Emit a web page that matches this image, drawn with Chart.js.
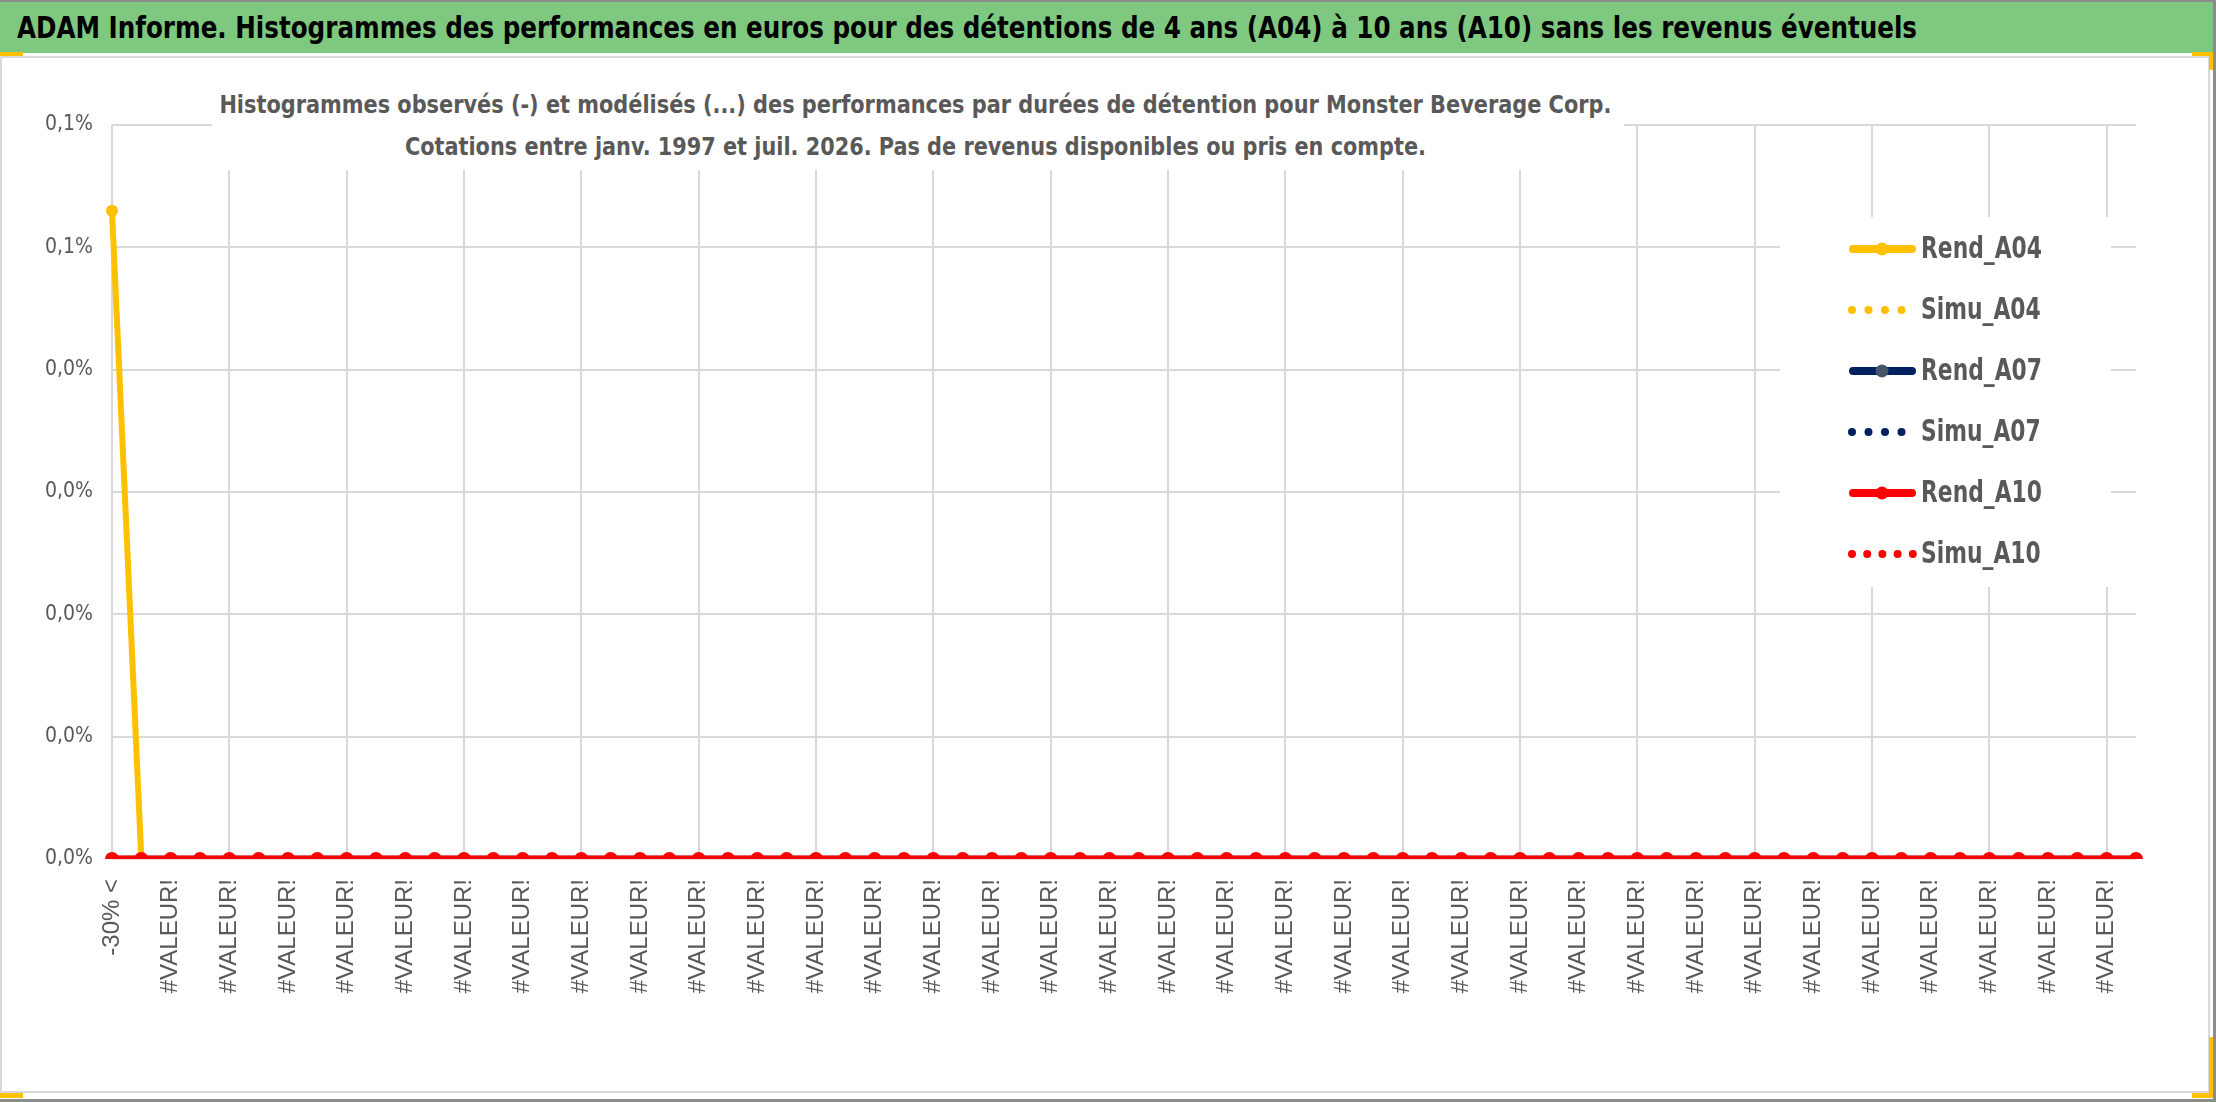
<!DOCTYPE html>
<html>
<head>
<meta charset="utf-8">
<script src="https://cdn.jsdelivr.net/npm/chart.js@4.4.1/dist/chart.umd.min.js"></script>
<style>
  html, body { margin:0; padding:0; background:#fff; }
  body { width:2216px; height:1102px; position:relative; overflow:hidden; }
  #bar { position:absolute; left:0; top:0; width:2213px; height:53px; background:#7EC87F; border-top:2px solid #8C8C8C; box-sizing:border-box; }
  #title { position:absolute; left:17px; top:6px; white-space:nowrap; font-family:'Liberation Sans Narrow','DejaVu Sans Condensed',sans-serif; font-weight:bold; font-size:30px; line-height:40px; color:#000; transform-origin:0 50%; }
  #frame { position:absolute; left:0; top:56px; width:2210px; height:1037px; border:2px solid #D9D9D9; box-sizing:border-box; }
  #outerR { position:absolute; left:2213px; top:0; width:3px; height:1102px; background:#8C8C8C; }
  #outerB { position:absolute; left:0; top:1099px; width:2216px; height:3px; background:#8C8C8C; }
  .mk { position:absolute; background:#FFC000; }
  #chart { position:absolute; left:0; top:0; }
  #sub { position:absolute; left:212px; top:84px; width:1412px; height:86px; background:#fff; }
  #sub span { position:absolute; white-space:nowrap; height:42px; line-height:42px; font-family:'Liberation Sans Narrow','DejaVu Sans Condensed',sans-serif; font-weight:bold; font-size:25px; color:#595959; transform-origin:50% 50%; }
  #s1 { top:0; }
  #s2 { top:42px; }
</style>
</head>
<body>
<div id="bar"><span id="title">ADAM Informe. Histogrammes des performances en euros pour des détentions de 4 ans (A04) à 10 ans (A10) sans les revenus éventuels</span></div>
<div id="frame"></div>
<div id="outerR"></div>
<div id="outerB"></div>
<div class="mk" style="left:0;top:52px;width:23px;height:4px"></div>
<div class="mk" style="left:2192px;top:52px;width:21px;height:4px"></div>
<div class="mk" style="left:2209px;top:52px;width:4px;height:18px"></div>
<div class="mk" style="left:0;top:1093px;width:23px;height:5px"></div>
<div class="mk" style="left:2192px;top:1093px;width:21px;height:5px"></div>
<div class="mk" style="left:2209px;top:1037px;width:4px;height:61px"></div>
<canvas id="chart" width="2216" height="1102"></canvas>
<div id="sub">
  <span id="s1">Histogrammes observés (-) et modélisés (...) des performances par durées de détention pour Monster Beverage Corp.</span>
  <span id="s2">Cotations entre janv. 1997 et juil. 2026. Pas de revenus disponibles ou pris en compte.</span>
</div>
<script>
// ---- data ----
const categories = [
  "-30% <","#VALEUR!","#VALEUR!","#VALEUR!","#VALEUR!","#VALEUR!","#VALEUR!","#VALEUR!","#VALEUR!","#VALEUR!",
  "#VALEUR!","#VALEUR!","#VALEUR!","#VALEUR!","#VALEUR!","#VALEUR!","#VALEUR!","#VALEUR!","#VALEUR!","#VALEUR!",
  "#VALEUR!","#VALEUR!","#VALEUR!","#VALEUR!","#VALEUR!","#VALEUR!","#VALEUR!","#VALEUR!","#VALEUR!","#VALEUR!",
  "#VALEUR!","#VALEUR!","#VALEUR!","#VALEUR!","#VALEUR!","#VALEUR!","#VALEUR!","#VALEUR!","#VALEUR!","#VALEUR!",
  "#VALEUR!","#VALEUR!","#VALEUR!","#VALEUR!","#VALEUR!","#VALEUR!","#VALEUR!","#VALEUR!","#VALEUR!","#VALEUR!",
  "#VALEUR!","#VALEUR!","#VALEUR!","#VALEUR!","#VALEUR!","#VALEUR!","#VALEUR!","#VALEUR!","#VALEUR!","#VALEUR!",
  "#VALEUR!","#VALEUR!","#VALEUR!","#VALEUR!","#VALEUR!","#VALEUR!","#VALEUR!","#VALEUR!","#VALEUR!","#VALEUR!"
];
const rendA04 = [0.00053,0,0,0,0,0,0,0,0,0, 0,0,0,0,0,0,0,0,0,0, 0,0,0,0,0,0,0,0,0,0, 0,0,0,0,0,0,0,0,0,0, 0,0,0,0,0,0,0,0,0,0, 0,0,0,0,0,0,0,0,0,0, 0,0,0,0,0,0,0,0,0,0];
const simuA04 = [0,0,0,0,0,0,0,0,0,0, 0,0,0,0,0,0,0,0,0,0, 0,0,0,0,0,0,0,0,0,0, 0,0,0,0,0,0,0,0,0,0, 0,0,0,0,0,0,0,0,0,0, 0,0,0,0,0,0,0,0,0,0, 0,0,0,0,0,0,0,0,0,0];
const rendA07 = [0,0,0,0,0,0,0,0,0,0, 0,0,0,0,0,0,0,0,0,0, 0,0,0,0,0,0,0,0,0,0, 0,0,0,0,0,0,0,0,0,0, 0,0,0,0,0,0,0,0,0,0, 0,0,0,0,0,0,0,0,0,0, 0,0,0,0,0,0,0,0,0,0];
const simuA07 = [0,0,0,0,0,0,0,0,0,0, 0,0,0,0,0,0,0,0,0,0, 0,0,0,0,0,0,0,0,0,0, 0,0,0,0,0,0,0,0,0,0, 0,0,0,0,0,0,0,0,0,0, 0,0,0,0,0,0,0,0,0,0, 0,0,0,0,0,0,0,0,0,0];
const rendA10 = [0,0,0,0,0,0,0,0,0,0, 0,0,0,0,0,0,0,0,0,0, 0,0,0,0,0,0,0,0,0,0, 0,0,0,0,0,0,0,0,0,0, 0,0,0,0,0,0,0,0,0,0, 0,0,0,0,0,0,0,0,0,0, 0,0,0,0,0,0,0,0,0,0];
const simuA10 = [0,0,0,0,0,0,0,0,0,0, 0,0,0,0,0,0,0,0,0,0, 0,0,0,0,0,0,0,0,0,0, 0,0,0,0,0,0,0,0,0,0, 0,0,0,0,0,0,0,0,0,0, 0,0,0,0,0,0,0,0,0,0, 0,0,0,0,0,0,0,0,0,0];
const yMin = 0, yMax = 0.0006, yStep = 0.0001;

// ---- fit HTML titles to reference widths ----
function fitLeft(id, target) {
  const el = document.getElementById(id);
  const w = el.getBoundingClientRect().width;
  if (w > 0) el.style.transform = 'scaleX(' + (target / w) + ')';
}
function fitCenter(id, target, cx) {
  const el = document.getElementById(id);
  const w = el.getBoundingClientRect().width;
  el.style.left = (cx - w / 2) + 'px';
  if (w > 0) el.style.transform = 'scaleX(' + (target / w) + ')';
}
fitLeft('title', 1900);
fitCenter('s1', 1392, 915 - 212);
fitCenter('s2', 1021, 915 - 212);

const YEL = '#FFC000', NAVY = '#002060', RED = '#FF0000';
function solid(label, data, color, pointFill, r, w, order) {
  return { label, data, borderColor: color, backgroundColor: color, borderWidth: w,
    pointRadius: r, pointHoverRadius: r, pointBackgroundColor: pointFill, pointBorderColor: pointFill,
    pointBorderWidth: 0, tension: 0, fill: false, order, legendType: 'solid' };
}
function dotted(label, data, color, order, dots) {
  return { label, data, borderColor: color, backgroundColor: color, borderWidth: 6,
    borderDash: [0, 12], borderCapStyle: 'round', pointRadius: 0, pointHoverRadius: 0,
    tension: 0, fill: false, order, legendType: 'dotted', legendDots: dots };
}

const LEGEND_FONT = 'bold 30px "Liberation Sans Narrow", "DejaVu Sans Condensed", sans-serif';
const insideLegend = {
  id: 'insideLegend',
  afterDatasetsDraw(chart) {
    const c = chart.ctx;
    c.save();
    c.fillStyle = '#ffffff';
    c.fillRect(1780, 217, 331, 370);
    c.font = LEGEND_FONT;
    const k = 121 / c.measureText(chart.data.datasets[0].label).width;
    chart.data.datasets.forEach((ds, i) => {
      const y = 249 + i * 61;
      if (ds.legendType === 'solid') {
        c.strokeStyle = ds.borderColor; c.lineWidth = 8; c.lineCap = 'round'; c.setLineDash([]);
        c.beginPath(); c.moveTo(1853, y); c.lineTo(1912, y); c.stroke();
        c.fillStyle = ds.pointBackgroundColor;
        c.beginPath(); c.arc(1882, y, 6.5, 0, Math.PI * 2); c.fill();
      } else {
        c.fillStyle = ds.borderColor;
        const n = ds.legendDots, sp = n === 5 ? 15.2 : 16.5;
        for (let j = 0; j < n; j++) { c.beginPath(); c.arc(1852 + j * sp, y, 4, 0, Math.PI * 2); c.fill(); }
      }
      c.save();
      c.translate(1921, y + 1);
      c.scale(k, 1);
      c.fillStyle = '#595959';
      c.font = LEGEND_FONT;
      c.textBaseline = 'middle'; c.textAlign = 'left';
      c.fillText(ds.label, 0, 0);
      c.restore();
    });
    c.restore();
  }
};

new Chart(document.getElementById('chart').getContext('2d'), {
  type: 'line',
  data: {
    labels: categories,
    datasets: [
      solid('Rend_A04', rendA04, YEL, YEL, 6, 6, 6),
      dotted('Simu_A04', simuA04, YEL, 5, 4),
      solid('Rend_A07', rendA07, NAVY, '#44546A', 6, 6.5, 4),
      dotted('Simu_A07', simuA07, NAVY, 3, 4),
      solid('Rend_A10', rendA10, RED, RED, 7, 7, 2),
      dotted('Simu_A10', simuA10, RED, 1, 5)
    ]
  },
  options: {
    responsive: false, animation: false, devicePixelRatio: 1,
    layout: { padding: { left: 0, right: 80, top: 125, bottom: 0 } },
    plugins: { legend: { display: false }, tooltip: { enabled: false }, title: { display: false } },
    scales: {
      x: {
        offset: false,
        border: { display: false },
        grid: { drawTicks: false, lineWidth: 2, color: (ctx) => (ctx.index % 4 === 0 ? '#D9D9D9' : 'rgba(0,0,0,0)') },
        ticks: {
          autoSkip: false, maxRotation: 90, minRotation: 90, padding: 20, color: '#595959',
          font: { family: "'Liberation Sans', Arial, sans-serif", size: 24 },
          callback: (v, i) => (i % 2 === 0 ? categories[i] : '')
        },
        afterFit: (s) => { s.height = 1102 - 859; }
      },
      y: {
        min: yMin, max: yMax,
        border: { display: false },
        grid: { drawTicks: false, lineWidth: 2, color: '#D9D9D9' },
        ticks: {
          stepSize: yStep, padding: 19, color: '#595959',
          font: { family: "'Liberation Sans Narrow', 'DejaVu Sans Condensed', sans-serif", size: 21 },
          callback: (v) => {
            const p = Math.round(v * 1e6);
            const tenths = Math.round(p / 1000);
            return (tenths / 10).toFixed(1).replace('.', ',') + '%';
          }
        },
        afterFit: (s) => { s.width = 112; }
      }
    }
  },
  plugins: [insideLegend]
});
</script>
</body>
</html>
